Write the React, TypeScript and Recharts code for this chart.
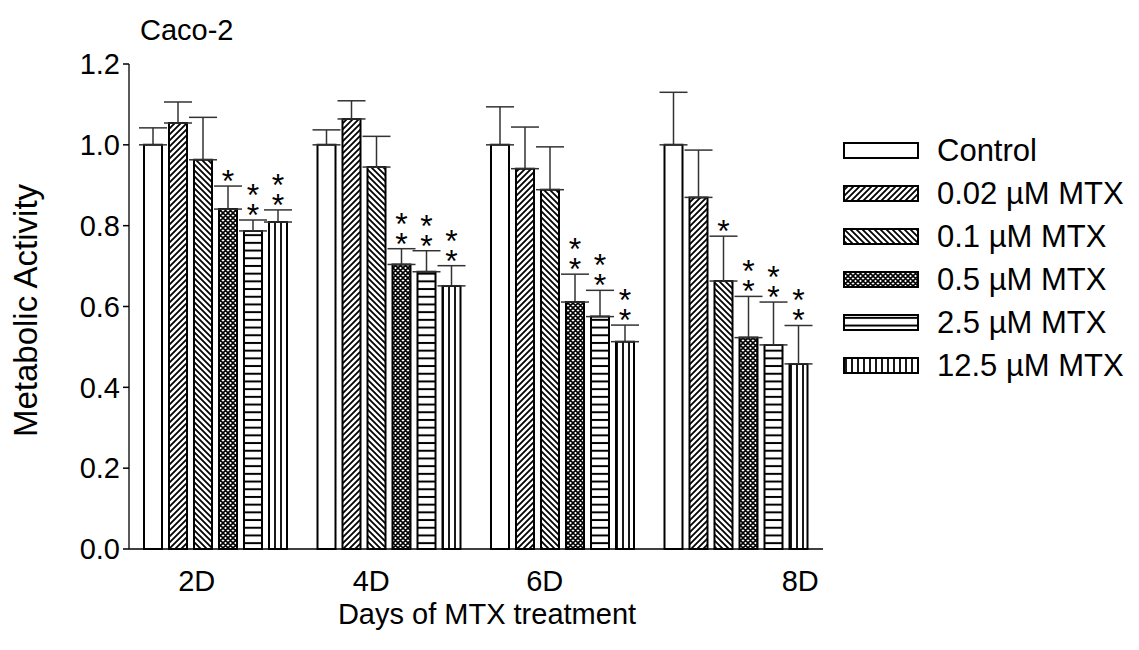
import React from 'react';
import { BarChart, Bar, XAxis, YAxis, ErrorBar, LabelList, Label } from 'recharts';

// categories and series values
const days = ['2D', '4D', '6D', '8D'];

const control = [1.0, 1.0, 1.0, 1.0];
const controlErr = [0.042, 0.037, 0.094, 0.13];
const mtx002 = [1.054, 1.064, 0.941, 0.87];
const mtx002Err = [0.052, 0.045, 0.103, 0.117];
const mtx01 = [0.963, 0.945, 0.889, 0.663];
const mtx01Err = [0.105, 0.076, 0.106, 0.111];
const mtx05 = [0.841, 0.704, 0.611, 0.523];
const mtx05Err = [0.057, 0.039, 0.069, 0.102];
const mtx25 = [0.787, 0.686, 0.575, 0.505];
const mtx25Err = [0.027, 0.052, 0.065, 0.106];
const mtx125 = [0.809, 0.651, 0.513, 0.458];
const mtx125Err = [0.03, 0.05, 0.041, 0.095];

// number of asterisks above each bar
const starsControl = [0, 0, 0, 0];
const stars002 = [0, 0, 0, 0];
const stars01 = [0, 0, 0, 1];
const stars05 = [1, 2, 2, 2];
const stars25 = [2, 2, 2, 2];
const stars125 = [2, 2, 2, 2];

const yTicks = [0, 0.2, 0.4, 0.6, 0.8, 1.0, 1.2];

const series = [
  { key: 's0', name: 'Control', values: control, errs: controlErr, stars: starsControl, fill: '#fff' },
  { key: 's1', name: '0.02 \u00b5M MTX', values: mtx002, errs: mtx002Err, stars: stars002, fill: 'url(#pFwd)' },
  { key: 's2', name: '0.1 \u00b5M MTX', values: mtx01, errs: mtx01Err, stars: stars01, fill: 'url(#pBack)' },
  { key: 's3', name: '0.5 \u00b5M MTX', values: mtx05, errs: mtx05Err, stars: stars05, fill: 'url(#pCross)' },
  { key: 's4', name: '2.5 \u00b5M MTX', values: mtx25, errs: mtx25Err, stars: stars25, fill: 'url(#pHoriz)' },
  { key: 's5', name: '12.5 \u00b5M MTX', values: mtx125, errs: mtx125Err, stars: stars125, fill: 'url(#pVert)' },
];

const data = days.map((day, i) => {
  const row: any = { day };
  series.forEach(s => {
    row[s.key] = s.values[i];
    row[s.key + 'e'] = [0, s.errs[i]];
    row[s.key + 'n'] = s.stars[i];
  });
  return row;
});

const FONT = '"Liberation Sans", Arial, sans-serif';
const W = 1123;
const H = 634;

// SigmaPlot put the day labels a little off the group centres
const labelShift = [-19, -18, -18, 64];

function DayTick(props: any) {
  const { x, y, payload, index } = props;
  return (
    <text x={x + labelShift[index]} y={y + 24} textAnchor="middle" dominantBaseline="central"
      fontFamily={FONT} fontSize={29} fill="#000">
      {payload.value}
    </text>
  );
}

function makeStars(s: any) {
  return (props: any) => {
    const { x, y, width, height, index } = props;
    const n = s.stars[index];
    if (!n) return null;
    const perUnit = height / s.values[index];
    const errTop = y - s.errs[index] * perUnit;
    const cx = x + width / 2;
    const out = [];
    for (let k = 0; k < n; k++) {
      out.push(
        <text key={k} x={cx} y={errTop + 6 - k * 20} textAnchor="middle"
          fontFamily={FONT} fontSize={32} fill="#000">*</text>
      );
    }
    return <g>{out}</g>;
  };
}

function Patterns() {
  return (
    <defs>
      <pattern id="pFwd" patternUnits="userSpaceOnUse" width="6" height="6">
        <rect width="6" height="6" fill="#fff" />
        <path d="M0,6 L6,0 M-1.5,1.5 L1.5,-1.5 M4.5,7.5 L7.5,4.5" stroke="#000" strokeWidth="1.8" />
      </pattern>
      <pattern id="pBack" patternUnits="userSpaceOnUse" width="6" height="6">
        <rect width="6" height="6" fill="#fff" />
        <path d="M0,0 L6,6 M-1.5,4.5 L1.5,7.5 M4.5,-1.5 L7.5,1.5" stroke="#000" strokeWidth="1.8" />
      </pattern>
      <pattern id="pCross" patternUnits="userSpaceOnUse" width="5" height="5">
        <rect width="5" height="5" fill="#fff" />
        <path d="M0,0 L5,5 M-1,4 L1,6 M4,-1 L6,1 M0,5 L5,0 M-1,1 L1,-1 M4,6 L6,4" stroke="#000" strokeWidth="1.6" />
      </pattern>
      <pattern id="pHoriz" patternUnits="userSpaceOnUse" width="8" height="7.7">
        <rect width="8" height="7.7" fill="#fff" />
        <path d="M0,3.85 L8,3.85" stroke="#000" strokeWidth="2" />
      </pattern>
      <pattern id="pVert" patternUnits="userSpaceOnUse" width="6" height="8">
        <rect width="6" height="8" fill="#fff" />
        <path d="M3,0 L3,8" stroke="#000" strokeWidth="1.8" />
      </pattern>
    </defs>
  );
}

function LegendBox() {
  return (
    <div style={{ position: 'absolute', left: 835, top: 121, fontFamily: FONT }}>
      {series.map(s => (
        <div key={s.key} style={{ display: 'flex', alignItems: 'center', height: 43 }}>
          <svg width={76} height={17} style={{ display: 'block' }}>
            <rect x={1} y={1} width={74} height={15} fill={s.fill} stroke="#000" strokeWidth={2} />
          </svg>
          <span style={{ marginLeft: 18, fontSize: 31, lineHeight: '43px', color: '#000', whiteSpace: 'nowrap' }}>{s.name}</span>
        </div>
      ))}
    </div>
  );
}

export default function App() {
  return (
    <div style={{ position: 'relative', width: W, height: H, fontFamily: FONT }}>
      <BarChart width={W} height={H} data={data} barSize={18} barGap={7}
        margin={{ top: 56, right: 308, left: 0, bottom: 13 }}>
        <Patterns />
        <text x={132} y={22} dominantBaseline="central" fontFamily={FONT} fontSize={29} fill="#000">Caco-2</text>
        <XAxis dataKey="day" tick={<DayTick />} tickLine={false} axisLine={{ stroke: '#000', strokeWidth: 1.5 }}
          height={80} interval={0}>
          <Label value="Days of MTX treatment" position="insideBottom" offset={5} dx={11}
            style={{ fontFamily: FONT, fontSize: 29, fill: '#000' }} />
        </XAxis>
        <XAxis xAxisId="top" dataKey="day" orientation="top" tick={false} tickLine={false} height={0}
          axisLine={{ stroke: '#000', strokeWidth: 1.5 }} />
        <YAxis domain={[0, 1.2]} ticks={yTicks} width={121} interval={0}
          tickFormatter={(v: number) => v.toFixed(1)} tickSize={6} tickMargin={3}
          tick={{ fill: '#000', fontSize: 29, fontFamily: FONT }}
          tickLine={{ stroke: '#000', strokeWidth: 1.5 }}
          axisLine={{ stroke: '#222', strokeWidth: 1.5 }}>
          <Label value="Metabolic Activity" angle={-90} position="insideLeft" offset={17} dy={4}
            style={{ textAnchor: 'middle', fontFamily: FONT, fontSize: 33, fill: '#000' }} />
        </YAxis>
        <YAxis yAxisId="right" orientation="right" domain={[0, 1.2]} width={0} tick={false} tickLine={false}
          axisLine={{ stroke: '#000', strokeWidth: 1.5 }} />
        {series.map(s => (
          <Bar key={s.key} dataKey={s.key} fill={s.fill} stroke="#000" strokeWidth={2} isAnimationActive={false}>
            <ErrorBar dataKey={s.key + 'e'} width={14} stroke="#333" strokeWidth={1.5} direction="y" />
            <LabelList dataKey={s.key + 'n'} content={makeStars(s)} />
          </Bar>
        ))}
      </BarChart>
      <LegendBox />
    </div>
  );
}
